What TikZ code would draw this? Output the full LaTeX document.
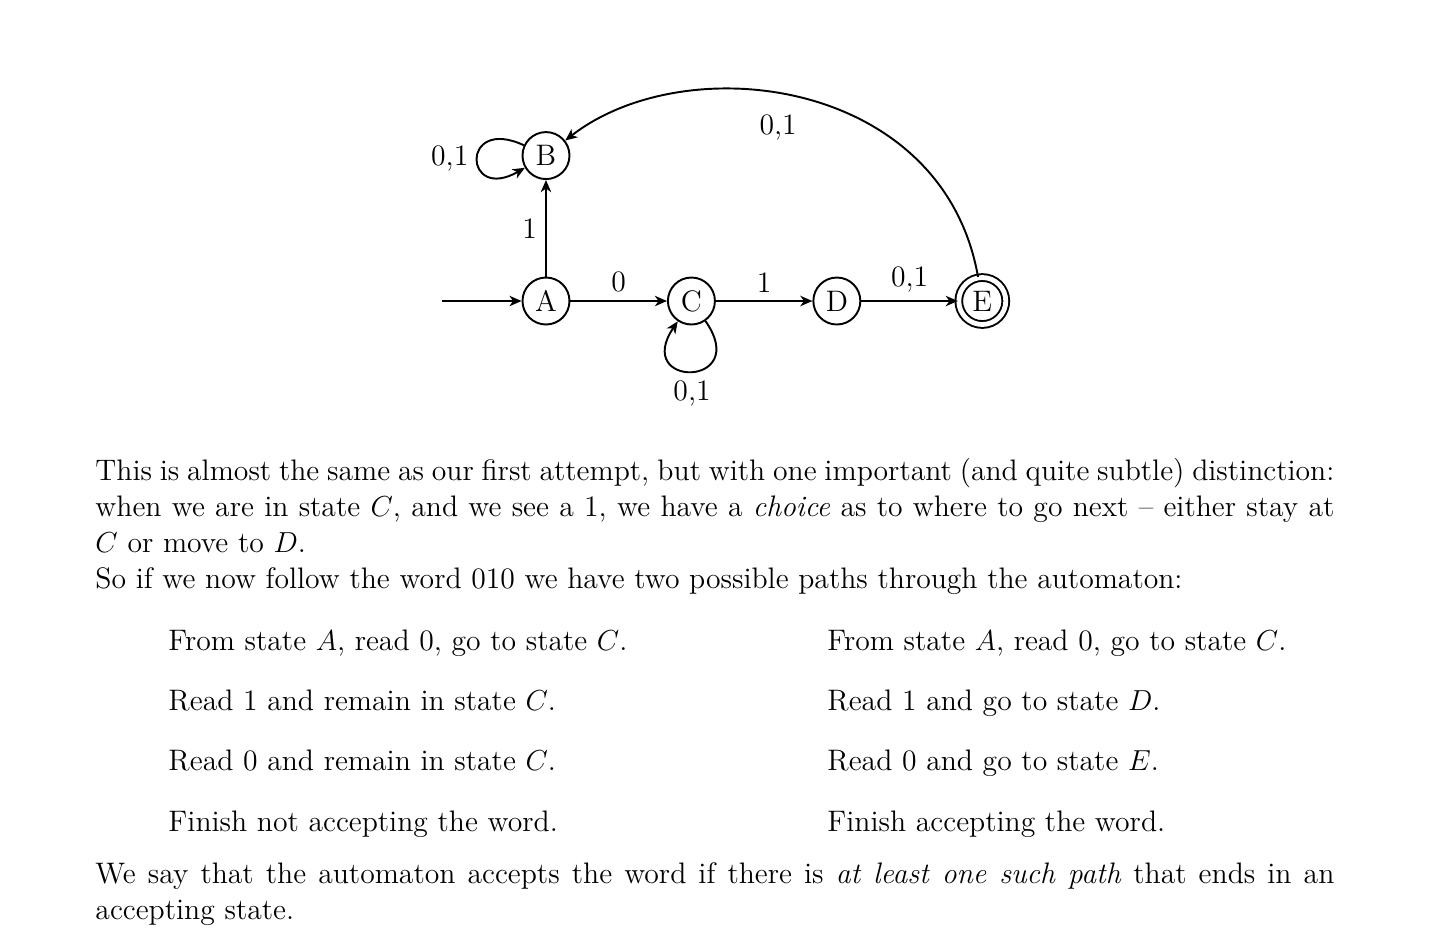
\documentclass[tikz,border=0pt]{standalone}
\usetikzlibrary{positioning,arrows.meta}
\begin{document}
\begin{tikzpicture}[x=1.0cm,y=1.0cm,>={Stealth[length=5pt,width=4.3pt,inset=1.5pt]},
  font=\fontsize{12.3}{14.93}\selectfont,
  state/.style={circle,draw,thick,minimum size=0.685cm,inner sep=0pt},
  final/.style={state,double,double distance=2pt},
  para/.style={anchor=base west,inner sep=0pt,text width=18.06cm,align=justify},
  entry/.style={anchor=base west,inner sep=0pt},
  node distance=2.12cm,on grid]
 \useasboundingbox (0,0) rectangle (20.962,-13.732);
 \begin{scope}[thick]
  \node[state] (A) at (7.959,-4.388) {A};
  \node[state,above=of A] (B) {B};
  \node[state,right=of A] (C) {C};
  \node[state,right=of C] (D) {D};
  \node[final,right=of D] (E) {E};
  \coordinate[left=1.516cm of A] (start);
  \draw[->] (start) -- (A);
  \draw[->] (A) -- node[left] {1} (B);
  \draw[->] (A) -- node[above] {0} (C);
  \draw[->] (C) -- node[above] {1} (D);
  \draw[->] (D) -- node[above] {0,1} (E);
  \draw[->] (B) to[out=155,in=210,looseness=8] node[left] {0,1} (B);
  \draw[->] (C) to[out=-55,in=-124,looseness=7.5] node[below] {0,1} (C);
  \draw[->] (E) to[out=100,in=38,out distance=2.95cm,in distance=2.22cm] node[pos=0.55,below=0.17cm] {0,1} (B);
 \end{scope}
 \node[para] (p1) at (1.385,-7.011) {This is almost the same as our first attempt, but with one important (and quite subtle) distinction: when we are in state $C$, and we see a 1, we have a \emph{choice} as to where to go next -- either stay at $C$ or move to $D$.\\
  So if we now follow the word 010 we have two possible paths through the automaton:};
 \foreach \i/\lft/\rgt in {1/{From state $A$, read 0, go to state $C$.}/{From state $A$, read 0, go to state $C$.},
   2/{Read 1 and remain in state $C$.}/{Read 1 and go to state $D$.},
   3/{Read 0 and remain in state $C$.}/{Read 0 and go to state $E$.},
   4/{Finish not accepting the word.}/{Finish accepting the word.}}
 {
  \node[entry] (l\i) at (2.449,{-9.489-0.875*(\i-1)}) {\lft};
  \node[entry] (r\i) at (12.055,{-9.489-0.875*(\i-1)}) {\rgt};
 }
 \node[para] (p2) at (1.385,-12.872) {We say that the automaton accepts the word if there is \emph{at least one such path} that ends in an accepting state.};
\end{tikzpicture}
\end{document}
